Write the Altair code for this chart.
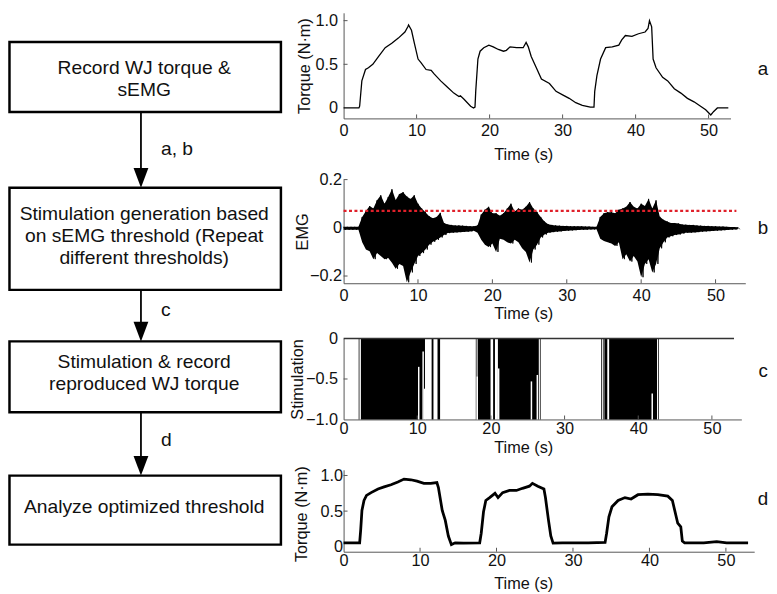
import altair as alt
import pandas as pd

FONT = "Liberation Sans"

# ---------------- data ----------------
# (a) recorded wrist-joint torque
torque_a_t = [0, 1.0, 2.1, 2.2, 2.5, 3.0, 3.4, 4.0, 4.8, 5.7, 6.6, 7.5, 8.4, 8.8, 8.9, 9.3, 9.7,
              10.2, 10.6, 11.3, 12.0, 12.4, 13.3, 14.2, 15.1, 15.8, 16.0, 16.5, 17.4, 17.8, 18.0,
              18.1, 18.4, 18.7, 19.2, 19.9, 20.5, 21.2, 21.9, 22.3, 22.8, 23.7, 24.6, 25.0, 25.3,
              25.7, 26.4, 27.1, 28.2, 29.1, 30.0, 30.9, 31.8, 32.7, 33.8, 34.3,
              34.4, 34.7, 35.2, 35.9, 36.8, 37.7, 38.1, 38.6, 39.5, 40.4, 41.3, 41.7, 41.9, 42.2,
              42.4, 42.8, 43.7, 44.4, 45.3, 46.2, 47.1, 48.0, 48.9, 49.6, 50.3, 50.7, 51.2, 51.6, 52.7]
torque_a_v = [0.0, 0.0, 0.0, 0.02, 0.31, 0.44, 0.46, 0.50, 0.59, 0.69, 0.74, 0.80, 0.87, 0.93, 0.95, 0.89, 0.74,
              0.56, 0.52, 0.44, 0.43, 0.39, 0.31, 0.24, 0.17, 0.13, 0.14, 0.10, 0.02, 0.0, 0.01,
              0.19, 0.56, 0.65, 0.69, 0.72, 0.70, 0.67, 0.65, 0.66, 0.70, 0.69, 0.69, 0.75, 0.70,
              0.59, 0.46, 0.33, 0.28, 0.19, 0.15, 0.11, 0.06, 0.03, 0.01, 0.01,
              0.19, 0.37, 0.56, 0.69, 0.70, 0.72, 0.78, 0.83, 0.82, 0.85, 0.87, 0.91, 1.00, 0.93,
              0.56, 0.46, 0.35, 0.31, 0.22, 0.17, 0.11, 0.07, 0.02, -0.02, -0.08, -0.04, 0.0, 0.0, 0.0]

# (b) sEMG envelope, sampled every 0.5 s from 0 to 53 s
emg_step = 0.5
emg_upper = [0.004, 0.004, 0.004, 0.004, 0.004, 0.045, 0.07, 0.09, 0.08, 0.114, 0.135, 0.10, 0.128, 0.16,
             0.115, 0.14, 0.148, 0.13, 0.12, 0.135, 0.10, 0.08, 0.065, 0.048, 0.04, 0.045, 0.062, 0.02,
             0.014, 0.012, 0.01, 0.01, 0.009, 0.008, 0.007, 0.006, 0.01, 0.055, 0.075, 0.087, 0.06, 0.06,
             0.05, 0.06, 0.08, 0.10, 0.068, 0.08, 0.075, 0.087, 0.107, 0.08, 0.066, 0.045, 0.026, 0.015,
             0.012, 0.01, 0.009, 0.008, 0.008, 0.007, 0.007, 0.006, 0.006, 0.005, 0.005, 0.004, 0.004,
             0.045, 0.06, 0.065, 0.065, 0.06, 0.075, 0.08, 0.087, 0.107, 0.087, 0.08, 0.10, 0.09, 0.12,
             0.08, 0.114, 0.046, 0.033, 0.026, 0.02, 0.02, 0.018, 0.014, 0.013, 0.012, 0.012, 0.01,
             0.009, 0.008, 0.008, 0.007, 0.006, 0.005, 0.005, 0.004, 0.003, 0.003, 0.002]
emg_lower = [-0.008, -0.008, -0.008, -0.008, -0.008, -0.06, -0.09, -0.097, -0.13, -0.105, -0.117, -0.13,
             -0.125, -0.145, -0.17, -0.15, -0.158, -0.226, -0.185, -0.15, -0.117, -0.105, -0.09, -0.07,
             -0.058, -0.05, -0.04, -0.03, -0.022, -0.02, -0.019, -0.018, -0.017, -0.016, -0.015, -0.012,
             -0.02, -0.05, -0.07, -0.08, -0.065, -0.10, -0.045, -0.05, -0.06, -0.065, -0.05, -0.06, -0.085,
             -0.10, -0.144, -0.09, -0.07, -0.04, -0.028, -0.02, -0.018, -0.016, -0.015, -0.013, -0.012,
             -0.011, -0.01, -0.009, -0.008, -0.008, -0.007, -0.007, -0.006, -0.045, -0.055, -0.06, -0.065,
             -0.075, -0.06, -0.13, -0.11, -0.14, -0.117, -0.14, -0.205, -0.15, -0.13, -0.185, -0.15, -0.085,
             -0.06, -0.04, -0.035, -0.03, -0.028, -0.024, -0.02, -0.02, -0.019, -0.018, -0.016, -0.015,
             -0.014, -0.013, -0.012, -0.011, -0.01, -0.009, -0.008, -0.007, -0.006]
emg_threshold = 0.07

# (c) stimulation on-intervals (s) and partial gaps (time, level)
stim_start = [2.05, 2.35, 11.95, 12.75, 17.95, 18.2, 20.3, 20.95, 26.65, 34.95, 35.2, 35.4, 36.05, 42.7]
stim_end = [2.15, 11.05, 12.2, 13.1, 18.05, 19.95, 20.55, 26.5, 26.75, 35.05, 35.3, 35.8, 42.55, 42.8]
gap_t = [10.2, 10.8, 11.0, 18.15, 21.05, 25.5, 26.3, 41.9]
gap_top = [-0.35, -0.16, -0.62, -0.47, -0.37, -0.53, -0.45, -0.68]
stim_end_time = 53.0

# (d) reproduced torque
torque_d_t = [0, 1.0, 2.1, 2.24, 2.4, 2.67, 3.0, 3.6, 4.5, 5.3, 6.2, 7.1, 7.9, 8.8, 9.6, 10.5, 11.4, 12.2,
              12.4, 12.9, 13.3, 13.7, 14.1, 14.6, 15.7, 17.8,
              18.0, 18.3, 18.6, 19.1, 19.8, 20.2, 20.8, 21.7, 22.6, 23.4, 24.3, 24.7, 25.4, 26.2, 26.4,
              26.8, 27.1, 27.4, 28.6, 32.0, 34.2,
              34.4, 34.7, 35.1, 35.9, 36.8, 37.6, 38.5, 39.8, 41.1, 42.4, 43.0, 43.7, 44.1, 44.3, 44.6,
              47.1, 48.8, 50.1, 52.9]
torque_d_v = [0.055, 0.055, 0.055, 0.24, 0.51, 0.65, 0.72, 0.76, 0.81, 0.84, 0.87, 0.91, 0.95, 0.94, 0.92,
              0.89, 0.89, 0.90, 0.83, 0.51, 0.37, 0.15, 0.03, 0.055, 0.05, 0.055,
              0.19, 0.49, 0.65, 0.69, 0.75, 0.69, 0.76, 0.79, 0.79, 0.82, 0.85, 0.89, 0.85, 0.81, 0.69,
              0.37, 0.15, 0.05, 0.055, 0.055, 0.06,
              0.19, 0.42, 0.56, 0.65, 0.69, 0.67, 0.73, 0.74, 0.73, 0.71, 0.65, 0.33, 0.28, 0.08, 0.055,
              0.055, 0.07, 0.055, 0.055]

x_ticks = [0, 10, 20, 30, 40, 50]
panel_letters = ["a", "b", "c", "d"]

box_texts = ["Record WJ torque &\nsEMG",
             "Stimulation generation based\non sEMG threshold (Repeat\ndifferent thresholds)",
             "Stimulation & record\nreproduced WJ torque",
             "Analyze optimized threshold"]
arrow_labels = ["a, b", "c", "d"]

# ---------------- layout (pixels) ----------------
FLOW_W, FLOW_H = 280, 545
box_top = [29.55, 177.3, 332.9, 468.9]
box_bot = [100.5, 280.7, 404.8, 538.8]
text_y = [67.0, 226.3, 364.8, 500.4]
LINE_H = 22.5
BOX_X0, BOX_X1, TEXT_X, ARROW_X, ALAB_X = 1.5, 276.5, 138.0, 134.7, 155.0
alab_y = [137.6, 301.4, 433.1]

LABEL_EXPR = "datum.value == 0 ? '0' : format(datum.value, '.1f')"
AX_COL = "#555555"


def xaxis(title_y, lpad):
    return alt.Axis(values=x_ticks, format="d", title="Time (s)", titleX=182, titleY=title_y,
                    titleBaseline="middle", labelPadding=lpad, labelFlush=False)


def yaxis(title, values, title_x, lpad, title_y=None):
    kw = dict(values=values, labelExpr=LABEL_EXPR, title=title, titleX=title_x,
              titleBaseline="middle", labelPadding=lpad, labelFlush=False)
    if title_y is not None:
        kw["titleY"] = title_y
    return alt.Axis(**kw)


def tick_layers(xs, xax, ys, yax, yvals, height):
    xt = alt.Chart(pd.DataFrame({"t": x_ticks[1:]})).mark_rule(color=AX_COL, strokeWidth=1).encode(
        x=alt.X("t:Q", scale=xs, axis=xax), y=alt.value(height), y2=alt.value(height - 4))
    yt = alt.Chart(pd.DataFrame({"v": yvals})).mark_rule(color=AX_COL, strokeWidth=1).encode(
        y=alt.Y("v:Q", scale=ys, axis=yax), x=alt.value(0), x2=alt.value(4))
    return [xt, yt]


def letter(ch, x, y):
    return alt.Chart(pd.DataFrame({"s": [ch]})).mark_text(
        font=FONT, fontSize=19, color="#111", align="center", baseline="middle").encode(
        text="s:N", x=alt.value(x), y=alt.value(y))


# ---------------- panel a ----------------
W_A, H_A = 392, 107
xs_a = alt.Scale(domain=[0, 53], nice=False, zero=False)
ys_a = alt.Scale(domain=[-0.12, 1.09], nice=False, zero=False)
xa_a = xaxis(37, 4)
ya_a = yaxis("Torque (N·m)", [0, 0.5, 1.0], -40, 6)
df_a = pd.DataFrame({"t": torque_a_t, "v": torque_a_v})
line_a = alt.Chart(df_a).mark_line(color="black", strokeWidth=1.3).encode(
    x=alt.X("t:Q", scale=xs_a, axis=xa_a), y=alt.Y("v:Q", scale=ys_a, axis=ya_a))
panel_a = alt.layer(line_a, *tick_layers(xs_a, xa_a, ys_a, ya_a, [0.5, 1.0], H_A),
                    letter(panel_letters[0], 425, 57.1)).properties(width=W_A, height=H_A)

# ---------------- panel b ----------------
W_B, H_B = 407, 105
xs_b = alt.Scale(domain=[0, 54], nice=False, zero=False)
ys_b = alt.Scale(domain=[-0.23, 0.2], nice=False, zero=False)
xa_b = xaxis(30.6, 4)
ya_b = yaxis("EMG", [-0.2, 0, 0.2], -42, 2)
df_env = pd.DataFrame({"t": [i * emg_step for i in range(len(emg_upper))],
                       "v": emg_lower, "u": emg_upper})
area_b = alt.Chart(df_env).mark_area(color="black", opacity=1).encode(
    x=alt.X("t:Q", scale=xs_b, axis=xa_b), y=alt.Y("v:Q", scale=ys_b, axis=ya_b), y2="u:Q")
rows = []
for i, (u, l) in enumerate(zip(emg_upper, emg_lower)):
    rows.append({"t": i * emg_step, "v": u, "o": 2 * i})
    rows.append({"t": i * emg_step + emg_step / 2, "v": l, "o": 2 * i + 1})
df_b = pd.DataFrame(rows)
line_b = alt.Chart(df_b).mark_line(color="black", strokeWidth=0.9).encode(
    x=alt.X("t:Q", scale=xs_b, axis=xa_b), y=alt.Y("v:Q", scale=ys_b, axis=ya_b), order="o:Q")
thr = alt.Chart(pd.DataFrame({"t": [0, 52.8], "v": [emg_threshold, emg_threshold]})).mark_line(
    color="#e0202a", strokeWidth=2.2, strokeDash=[3, 2.5]).encode(
    x=alt.X("t:Q", scale=xs_b, axis=xa_b), y=alt.Y("v:Q", scale=ys_b, axis=ya_b))
panel_b = alt.layer(area_b, line_b, thr, *tick_layers(xs_b, xa_b, ys_b, ya_b, [-0.2, 0.2], H_B),
                    letter(panel_letters[1], 425, 49.25)).properties(width=W_B, height=H_B)

# ---------------- panel c ----------------
W_C, H_C = 403, 82
xs_c = alt.Scale(domain=[0, 54], nice=False, zero=False)
ys_c = alt.Scale(domain=[-1, 0], nice=False, zero=False)
xa_c = xaxis(28.7, 1)
ya_c = yaxis("Stimulation", [-1, -0.5, 0], -47, 6)
df_c = pd.DataFrame({"t": stim_start, "e": stim_end, "v": -1.0, "hi": 0.0})
rect_c = alt.Chart(df_c).mark_rect(color="black").encode(
    x=alt.X("t:Q", scale=xs_c, axis=xa_c), x2="e:Q",
    y=alt.Y("v:Q", scale=ys_c, axis=ya_c), y2="hi:Q")
df_g = pd.DataFrame({"t": gap_t, "v": -1.0, "top": gap_top})
gaps_c = alt.Chart(df_g).mark_rule(color="white", strokeWidth=1.5).encode(
    x=alt.X("t:Q", scale=xs_c, axis=xa_c), y=alt.Y("v:Q", scale=ys_c, axis=ya_c), y2="top:Q")
base_c = alt.Chart(pd.DataFrame({"t": [0], "t2": [stim_end_time], "v": [0.0]})).mark_rule(
    color="#333", strokeWidth=1.5).encode(
    x=alt.X("t:Q", scale=xs_c, axis=xa_c), x2="t2:Q", y=alt.Y("v:Q", scale=ys_c, axis=ya_c))
panel_c = alt.layer(rect_c, gaps_c, base_c, *tick_layers(xs_c, xa_c, ys_c, ya_c, [-0.5], H_C),
                    letter(panel_letters[2], 425, 32.5)).properties(width=W_C, height=H_C)

# ---------------- panel d ----------------
W_D, H_D = 416, 83
xs_d = alt.Scale(domain=[0, 53.7], nice=False, zero=False)
ys_d = alt.Scale(domain=[-0.07, 1.08], nice=False, zero=False)
xa_d = xaxis(32.5, 1)
ya_d = yaxis("Torque (N·m)", [0, 0.5, 1.0], -43, 1, H_D / 2 + 3)
df_d = pd.DataFrame({"t": torque_d_t, "v": torque_d_v})
line_d = alt.Chart(df_d).mark_line(color="black", strokeWidth=2.8).encode(
    x=alt.X("t:Q", scale=xs_d, axis=xa_d), y=alt.Y("v:Q", scale=ys_d, axis=ya_d))
panel_d = alt.layer(line_d, *tick_layers(xs_d, xa_d, ys_d, ya_d, [0.5, 1.0], H_D),
                    letter(panel_letters[3], 425, 29.55)).properties(width=W_D, height=H_D)

right = alt.vconcat(panel_a, panel_b, panel_c, panel_d, spacing=8)

# ---------------- flowchart ----------------
fx = alt.Scale(domain=[0, FLOW_W], nice=False, zero=False)
fy = alt.Scale(domain=[0, FLOW_H], nice=False, zero=False, reverse=True)
df_box = pd.DataFrame({"x0": BOX_X0, "x1": BOX_X1, "y0": box_top, "y1": box_bot})
boxes = alt.Chart(df_box).mark_rect(fill="white", stroke="black", strokeWidth=2.5).encode(
    x=alt.X("x0:Q", scale=fx, axis=None), x2="x1:Q",
    y=alt.Y("y0:Q", scale=fy, axis=None), y2="y1:Q")
line_rows = []
for bi, txt in enumerate(box_texts):
    parts = txt.split("\n")
    n = len(parts)
    for li, p in enumerate(parts):
        line_rows.append({"txt": p, "tx": TEXT_X, "ty": text_y[bi] + (li - (n - 1) / 2) * LINE_H})
df_lines = pd.DataFrame(line_rows)
btext = alt.Chart(df_lines).mark_text(font=FONT, fontSize=19.5, color="#111", align="center",
                                      baseline="middle").encode(
    x=alt.X("tx:Q", scale=fx, axis=None), y=alt.Y("ty:Q", scale=fy, axis=None), text="txt:N")
df_arr = pd.DataFrame({"ax": ARROW_X, "ya": box_bot[:3], "yb": [t - 12 for t in box_top[1:]],
                       "yh": [t - 10 for t in box_top[1:]], "lab": arrow_labels, "lx": ALAB_X,
                       "ly": alab_y})
arr_lines = alt.Chart(df_arr).mark_rule(color="black", strokeWidth=1.8).encode(
    x=alt.X("ax:Q", scale=fx, axis=None), y=alt.Y("ya:Q", scale=fy, axis=None), y2="yb:Q")
arr_heads = alt.Chart(df_arr).mark_point(shape="M-0.75,-1L0.75,-1L0,1Z", size=400, filled=True,
                                         color="black", opacity=1).encode(
    x=alt.X("ax:Q", scale=fx, axis=None), y=alt.Y("yh:Q", scale=fy, axis=None))
arr_text = alt.Chart(df_arr).mark_text(font=FONT, fontSize=19.5, color="#111", align="left",
                                       baseline="middle").encode(
    x=alt.X("lx:Q", scale=fx, axis=None), y=alt.Y("ly:Q", scale=fy, axis=None), text="lab:N")
flow = alt.layer(arr_lines, arr_heads, boxes, btext, arr_text).properties(width=FLOW_W, height=FLOW_H)

chart = alt.hconcat(flow, right, spacing=4).properties(padding=0).configure_view(
    stroke=None).configure_axis(
    labelFont=FONT, titleFont=FONT, labelFontSize=16.5, titleFontSize=16.5,
    titleFontWeight="normal", labelColor="#111", titleColor="#111",
    domainColor=AX_COL, domainWidth=1, ticks=False, grid=False)

chart.save("out.html", embed_options={"renderer": "svg", "actions": False})
